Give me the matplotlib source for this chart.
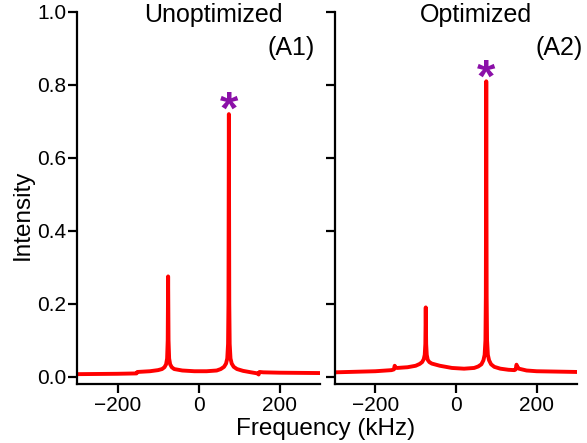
import numpy as np
import matplotlib.pyplot as plt

plt.rcParams['font.family'] = ['Liberation Sans', 'DejaVu Sans']

# spectrum before optimisation (A1): frequency in kHz, intensity
freq_a1 = [-300, -200, -153, -151, -120, -100, -90, -84, -80, -77.5, -76, -75, -74,
           -72.5, -70, -66, -60, -40, -10, 20, 45, 55, 63, 68, 71, 73, 74, 75, 76,
           77, 79, 82, 87, 95, 110, 130, 146, 148.5, 150.5, 160, 200, 300]
int_a1 = [0.007, 0.008, 0.009, 0.013, 0.015, 0.018, 0.021, 0.026, 0.034, 0.05, 0.10, 0.275, 0.10,
          0.05, 0.034, 0.026, 0.021, 0.017, 0.015, 0.015, 0.017, 0.021, 0.027, 0.036, 0.05, 0.09, 0.20, 0.72, 0.20,
          0.09, 0.05, 0.036, 0.027, 0.021, 0.016, 0.012, 0.009, 0.006, 0.013, 0.012, 0.011, 0.010]

# spectrum after optimisation (A2)
freq_a2 = [-300, -200, -160, -154, -152, -150, -146, -120, -100, -90, -84, -80, -77.5, -76, -75,
           -74, -72.5, -70, -66, -60, -40, -10, 20, 45, 55, 63, 68, 71, 73, 74, 75, 76, 77,
           79, 82, 87, 95, 110, 130, 145, 148, 150, 152, 156, 175, 200, 300]
int_a2 = [0.012, 0.015, 0.018, 0.020, 0.030, 0.025, 0.024, 0.026, 0.030, 0.035, 0.040, 0.048, 0.06, 0.09, 0.19,
          0.09, 0.06, 0.046, 0.040, 0.036, 0.030, 0.024, 0.022, 0.024, 0.028, 0.034, 0.045, 0.06, 0.10, 0.22, 0.81, 0.22, 0.10,
          0.06, 0.045, 0.034, 0.027, 0.022, 0.019, 0.018, 0.020, 0.033, 0.028, 0.022, 0.017, 0.015, 0.013]

titles = ['Unoptimized', 'Optimized']
tags = ['(A1)', '(A2)']
xticks = [-200, 0, 200]
yticks = [0.0, 0.2, 0.4, 0.6, 0.8, 1.0]

fig = plt.figure(figsize=(5.87, 4.43), dpi=100)
ax1 = fig.add_axes([77/587, 1 - 384/443, 243/587, 372/443])
ax2 = fig.add_axes([335/587, 1 - 384/443, 242/587, 372/443])

for ax, f, y in [(ax1, freq_a1, int_a1), (ax2, freq_a2, int_a2)]:
    ax.plot(f, y, color='red', lw=2.8, solid_joinstyle='round')
    # mark the main peak
    i = int(np.argmax(y))
    ax.text(f[i], y[i] - 0.055, '*', color='#8B10A8', fontsize=34, fontweight='bold',
            ha='center', va='bottom')
    ax.set_xlim(-300, 300)
    ax.set_ylim(-0.02, 1.0)
    ax.set_xticks(xticks)
    ax.set_yticks(yticks)
    for s in ['top', 'right']:
        ax.spines[s].set_visible(False)
    for s in ['left', 'bottom']:
        ax.spines[s].set_linewidth(1.6)
    ax.tick_params(direction='out', length=6.5, width=1.6, labelsize=15, pad=2)

ax1.set_yticklabels([f'{v:.1f}' for v in yticks])
ax1.tick_params(axis='y', pad=1)
ax2.set_yticklabels([])

fig.text(213/587, 1 - 22/443, titles[0], fontsize=18, ha='center', va='baseline')
fig.text(476/587, 1 - 22/443, titles[1], fontsize=18, ha='center', va='baseline')
fig.text(315/587, 1 - 55/443, tags[0], fontsize=18, ha='right', va='baseline')
fig.text(583/587, 1 - 55/443, tags[1], fontsize=18, ha='right', va='baseline')

fig.text(23/587, 1 - 215/443, 'Intensity', fontsize=17.5, rotation=90, ha='center', va='center')
fig.text(326/587, 1 - 429/443, 'Frequency (kHz)', fontsize=17.5, ha='center', va='center')

fig.savefig('out.png', dpi=100)
